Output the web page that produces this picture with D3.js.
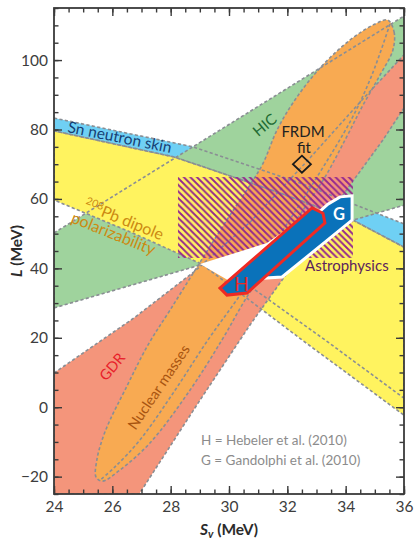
<!DOCTYPE html>
<html><head><meta charset="utf-8">
<script src="https://cdn.jsdelivr.net/npm/d3@7"></script>
<style>
body{margin:0;background:#fff;}
svg text{font-family:Lato,"Open Sans",sans-serif;}
</style></head><body>
<svg id="chart" width="415" height="540"></svg>
<script>
// Axis ticks
const svTicks = [24, 26, 28, 30, 32, 34, 36];
const lTicks = [-20, 0, 20, 40, 60, 80, 100];
const svMinor = d3.range(24, 36.01, 0.5);
const lMinor = d3.range(-25, 115.01, 5);

// Constraint regions in (Sv, L) [MeV]
const snSkinTop = [[24,83.3],[28.77,75.0],[32.43,64.6],[36,52.8]];
const pbDipoleTop = [[24,79.6],[28.11,72.1],[29.14,69.2],[31.75,61.7],[34.25,53.9],[36,46.1]];
const pbDipoleBottom = [[36,-2.3],[32.5,19.4],[29.07,41.2],[26.61,50.5],[24,59.7]];
const pbDipoleMid = [[30.89,33.8],[33.29,19.4],[36,2.6]];
const hic = [[24,50.2],[36,112.7],[36,58.2],[24,28.6]];
const gdr = [[24,9.85],[26.74,25.7],[28.8,39.0],[30.72,53.3],[32.71,71.2],[34.56,88.5],[36,101.5],
             [36,86.2],[35.28,77.0],[34.15,64.0],[32.43,43.8],[30.72,23.7],[29.01,2.1],[26.92,-25],[24,-25]];
const massesOuter = [[35.45,111.5],[35.66,108.1],[35.62,102.9],[35.18,95.7],[34.56,86.5],[33.98,77.0],[33.29,66.3],
                     [32.43,55.4],[31.4,41.8],[30.55,30.9],[29.76,19.4],[28.66,4.9],[27.29,-10.3],[26.26,-18.1],
                     [25.65,-21.3],[25.44,-20.1],[25.47,-15.2],[25.65,-9.4],[25.92,-3.7],[26.43,4.9],[27.22,17.9],
                     [27.98,28.0],[29.01,41.8],[30.04,55.4],[30.72,64.0],[31.17,70.3],[31.65,79.9],[32.26,88.5],
                     [33.12,97.7],[34.15,105.8],[35.01,110.4]];
const massesInner = [[35.52,110.4],[34.9,95.7],[34.22,83.3],[32.95,65.4],[31.4,45.3],[30.38,32.3],[29.28,19.4],
                     [28.15,4.9],[26.95,-9.4],[26.09,-17.2],[25.58,-21.0]];
const overlap = [[29.01,41.25],[31.3,47.3],[32.43,53.9],[32.78,56.2],[31.06,41.8],[29.97,36.6]];
const astroSv = [28.25, 34.25];
const astroL = [43.0, 66.3];
const hebeler = [[29.69,34.3],[32.85,57.4],[33.22,55.9],[33.29,53.1],[30.62,32.9],[29.93,32.3]];
const gandolfi = [[31.17,41.8],[33.39,58.5],[33.81,60.6],[34.22,60.9],[34.22,53.9],[31.82,37.5],[31.23,37.2]];
const frdm = [32.5, 70.0];

// Sn skin band shares its lower edge with the top of the dipole band
const snSkin = snSkinTop.concat(pbDipoleTop.slice().reverse());
const pbDipole = pbDipoleTop.concat(pbDipoleBottom);

const m = {left:54, right:404, top:8, bottom:494};
const svg = d3.select("#chart");
const x = d3.scaleLinear().domain([24,36]).range([m.left, m.right]);
const y = d3.scaleLinear().domain([-25,115]).range([m.bottom, m.top]);

const defs = svg.append("defs");
defs.append("clipPath").attr("id","plotclip").append("rect")
  .attr("x", m.left).attr("y", m.top).attr("width", m.right-m.left).attr("height", m.bottom-m.top);
const s = 6.6;
const pat = defs.append("pattern").attr("id","hatch").attr("patternUnits","userSpaceOnUse")
  .attr("width", s).attr("height", s);
pat.append("path")
  .attr("d", `M0,0 L${s},${s} M${-s/2},${s/2} L${s/2},${s*1.5} M${s/2},${-s/2} L${s*1.5},${s/2}`)
  .attr("stroke","#93278f").attr("stroke-width",1.9);

const plot = svg.append("g").attr("clip-path","url(#plotclip)");
const poly = d3.line().x(d => x(d[0])).y(d => y(d[1]));
const closed = pts => poly(pts) + "Z";
const smooth = d3.line().x(d => x(d[0])).y(d => y(d[1])).curve(d3.curveCatmullRom.alpha(0.5));
const smoothClosed = d3.line().x(d => x(d[0])).y(d => y(d[1])).curve(d3.curveCatmullRomClosed.alpha(0.5));

const regions = [
  {pts: snSkin, fill: "#6fd0f4", path: closed},
  {pts: hic, fill: "#9fd39d", path: closed},
  {pts: pbDipole, fill: "#fff35f", path: closed},
  {pts: gdr, fill: "#f4957b", path: closed},
  {pts: massesOuter, fill: "#f8aa52", path: smoothClosed}
];
regions.forEach(r => plot.append("path").attr("d", r.path(r.pts)).attr("fill", r.fill));

const dash = {stroke:"#8a8e94", "stroke-width":1.6, "stroke-dasharray":"3.2,2.3", fill:"none"};
const outlines = regions.map(r => r.path(r.pts)).concat([smooth(massesInner), poly(pbDipoleMid)]);
outlines.forEach(d => {
  const p = plot.append("path").attr("d", d);
  Object.entries(dash).forEach(([k,v]) => p.attr(k, v));
});

// Astrophysics hatch
plot.append("rect")
  .attr("x", x(astroSv[0])).attr("y", y(astroL[1]))
  .attr("width", x(astroSv[1]) - x(astroSv[0])).attr("height", y(astroL[0]) - y(astroL[1]))
  .attr("fill","url(#hatch)");

// Experimental overlap
plot.append("path").attr("d", closed(overlap)).attr("fill", "#fff");

// Neutron matter bands
plot.append("path").attr("d", closed(gandolfi)).attr("fill","#0a72ba")
  .attr("stroke","#fff").attr("stroke-width",3).attr("stroke-linejoin","miter");
plot.append("path").attr("d", closed(hebeler)).attr("fill","#0a72ba")
  .attr("stroke","#ee2a24").attr("stroke-width",3).attr("stroke-linejoin","miter");

// FRDM fit
const fx = x(frdm[0]), fy = y(frdm[1]);
plot.append("path").attr("d", `M${fx},${fy-8.5} L${fx+9},${fy} L${fx},${fy+8.5} L${fx-9},${fy}Z`)
  .attr("fill","none").attr("stroke","#1a1a1a").attr("stroke-width",1.8);

// Axes
function styleAxis(g){ g.select(".domain").remove(); g.selectAll("line").attr("stroke","#3a3a3a").attr("stroke-width",1.4); }
svg.append("g").attr("transform",`translate(0,${m.bottom})`)
  .call(d3.axisBottom(x).tickValues(svMinor).tickSizeInner(-4.5).tickSizeOuter(0).tickFormat("")).call(styleAxis);
svg.append("g").attr("transform",`translate(0,${m.top})`)
  .call(d3.axisTop(x).tickValues(svMinor).tickSizeInner(-4.5).tickSizeOuter(0).tickFormat("")).call(styleAxis);
svg.append("g").attr("transform",`translate(${m.left},0)`)
  .call(d3.axisLeft(y).tickValues(lMinor).tickSizeInner(-4.5).tickSizeOuter(0).tickFormat("")).call(styleAxis);
svg.append("g").attr("transform",`translate(${m.right},0)`)
  .call(d3.axisRight(y).tickValues(lMinor).tickSizeInner(-4.5).tickSizeOuter(0).tickFormat("")).call(styleAxis);

const bx = svg.append("g").attr("transform",`translate(0,${m.bottom})`)
  .call(d3.axisBottom(x).tickValues(svTicks).tickSizeInner(-8).tickSizeOuter(0).tickPadding(7).tickFormat(d3.format("d")))
  .call(styleAxis);
svg.append("g").attr("transform",`translate(0,${m.top})`)
  .call(d3.axisTop(x).tickValues(svTicks).tickSizeInner(-8).tickSizeOuter(0).tickFormat("")).call(styleAxis);
const ly = svg.append("g").attr("transform",`translate(${m.left},0)`)
  .call(d3.axisLeft(y).tickValues(lTicks).tickSizeInner(-8).tickSizeOuter(0).tickPadding(6).tickFormat(d => d < 0 ? "\u2212" + Math.abs(d) : d))
  .call(styleAxis);
svg.append("g").attr("transform",`translate(${m.right},0)`)
  .call(d3.axisRight(y).tickValues(lTicks).tickSizeInner(-8).tickSizeOuter(0).tickFormat("")).call(styleAxis);
[bx, ly].forEach(g => g.selectAll("text").attr("font-size", 15.5).attr("fill","#3d3d3d").attr("font-family","Lato, sans-serif"));

svg.append("rect").attr("x", m.left).attr("y", m.top).attr("width", m.right-m.left).attr("height", m.bottom-m.top)
  .attr("fill","none").attr("stroke","#3a3a3a").attr("stroke-width",1.8);

// Axis titles
const xt = svg.append("text").attr("x", 229).attr("y", 535).attr("text-anchor","middle")
  .attr("font-size",15.5).attr("font-weight","bold").attr("fill","#2b2b2b");
xt.append("tspan").attr("font-style","italic").text("S");
xt.append("tspan").attr("font-style","italic").attr("font-size",11).attr("dy",3).text("v");
xt.append("tspan").attr("dy",-3).text(" (MeV)");
const yt = svg.append("text").attr("transform","translate(22,251) rotate(-90)").attr("text-anchor","middle")
  .attr("font-size",15.5).attr("font-weight","bold").attr("fill","#2b2b2b");
yt.append("tspan").attr("font-style","italic").text("L");
yt.append("tspan").text(" (MeV)");

// Region labels
function label(txt, tx, ty, rot, size, color, opts={}){
  const t = svg.append("text").attr("transform",`translate(${tx},${ty}) rotate(${rot})`)
    .attr("font-size", size).attr("fill", color).attr("text-anchor", opts.anchor || "start");
  if (opts.weight) t.attr("font-weight", opts.weight);
  t.text(txt);
  return t;
}
label("Sn neutron skin", 67, 132, 11.5, 15.5, "#173f73");
label("HIC", 268, 129, -40, 15, "#1e6a33", {anchor:"middle"});
label("FRDM", 303, 137, 0, 15, "#222", {anchor:"middle"});
label("fit", 304, 153, 0, 15, "#222", {anchor:"middle"});
const pb = svg.append("text").attr("transform","translate(83,209) rotate(22)").attr("font-size",16).attr("fill","#cc8a12");
pb.append("tspan").attr("font-size",10.5).attr("dy",-6).text("208");
pb.append("tspan").attr("dy",6).text("Pb dipole");
label("polarizability", 70, 222, 22, 16, "#cc8a12");
label("Astrophysics", 305, 271, 0, 15, "#5c1f5d");
label("GDR", 116, 370, -50, 14.5, "#e8202a", {anchor:"middle"});
label("Nuclear masses", 163, 390, -56, 14.5, "#a85410", {anchor:"middle"});
label("H", 241.5, 291, 0, 19, "#ee2a24", {anchor:"middle"});
label("G", 339, 220, 0, 16.5, "#fff", {anchor:"middle", weight:"bold"});
label("H = Hebeler et al. (2010)", 201, 445, 0, 13.5, "#8c8c8c");
label("G = Gandolphi et al. (2010)", 201, 465, 0, 13.5, "#8c8c8c");
</script>
</body></html>
